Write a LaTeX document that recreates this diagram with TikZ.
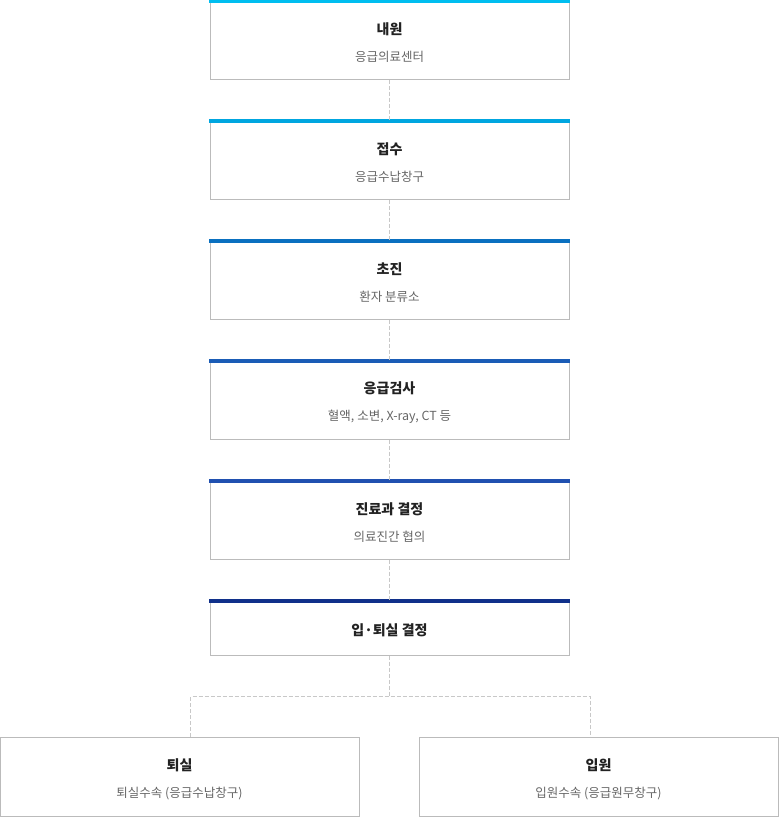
\documentclass[tikz,border=0pt]{standalone}
\usepackage{fontspec}
\setmainfont{Noto Sans CJK KR}
\usetikzlibrary{positioning}
\definecolor{erbar}{RGB}{0,190,240}
\definecolor{rcbar}{RGB}{0,166,224}
\definecolor{trbar}{RGB}{10,112,192}
\definecolor{exbar}{RGB}{26,92,182}
\definecolor{dgbar}{RGB}{32,80,176}
\definecolor{adbar}{RGB}{16,48,138}
\definecolor{boxline}{RGB}{187,187,187}
\definecolor{linkgray}{RGB}{200,200,200}
\definecolor{titleink}{RGB}{34,34,34}
\definecolor{subink}{RGB}{102,102,102}
\newcommand{\steptext}[2]{\rule{0pt}{17pt}\textbf{#1}\\{\fontsize{12.5}{27}\selectfont\color{subink}#2}}

\begin{document}
\begin{tikzpicture}[x=1pt, y=-1pt,
  stepbox/.style={draw=boxline, line width=1pt, inner sep=0pt, minimum width=359pt,
    minimum height=79pt, align=center, text=titleink, font=\fontsize{14}{27}\selectfont},
  link/.style={draw=linkgray, line width=1pt, dash pattern=on 4pt off 2pt}]
\useasboundingbox (0,0) rectangle (779,817);
% Steps
\node[stepbox] (inflow) at (389.5,39.5) {\steptext{내원}{응급의료센터}};
\node[stepbox] (reception) at (389.5,159.5) {\steptext{접수}{응급수납창구}};
\node[stepbox] (triage) at (389.5,279.5) {\steptext{초진}{환자 분류소}};
\node[stepbox] (exam) at (389.5,399.5) {\steptext{응급검사}{혈액, 소변, X-ray, CT 등}};
\node[stepbox] (decide) at (389.5,519.5) {\steptext{진료과 결정}{의료진간 협의}};
\node[stepbox, minimum height=55pt] (admit) at (389.5,627.5) {\rule{0pt}{17pt}\textbf{입·퇴실 결정}};
\node[stepbox] (discharge) at (179.5,776.5) {\steptext{퇴실}{퇴실수속 (응급수납창구)}};
\node[stepbox] (ward) at (598.5,776.5) {\steptext{입원}{입원수속 (응급원무창구)}};
% Bars
\foreach \n/\c in {inflow/erbar, reception/rcbar, triage/trbar, exam/exbar, decide/dgbar, admit/adbar}
  \fill[\c] ([xshift=-0.5pt, yshift=0.5pt]\n.north west) rectangle ([xshift=0.5pt, yshift=-3.5pt]\n.north east);
% Links
\draw[link] (inflow) -- (reception);
\draw[link] (reception) -- (triage);
\draw[link] (triage) -- (exam);
\draw[link] (exam) -- (decide);
\draw[link] (decide) -- (admit);
\coordinate (fork) at (389.5,696.5);
\coordinate (forkL) at (190.5,696.5);
\coordinate (forkR) at (590.5,696.5);
\draw[link] (admit) -- (fork);
\draw[link] (forkL |- discharge.north) -- (forkL) -- (forkR) -- (forkR |- ward.north);
\end{tikzpicture}
\end{document}
